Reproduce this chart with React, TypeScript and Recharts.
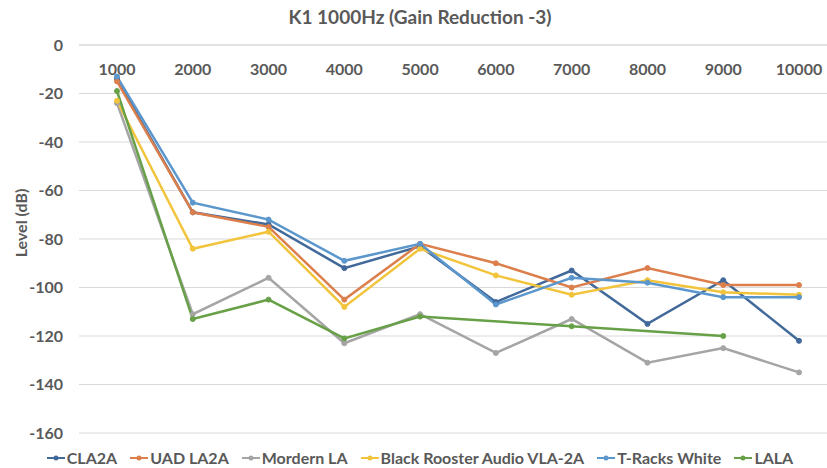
import { LineChart, Line, XAxis, YAxis, CartesianGrid, Legend } from "recharts";

const freqs = ["1000", "2000", "3000", "4000", "5000", "6000", "7000", "8000", "9000", "10000"];

const cla2a = [-14, -69, -74, -92, -83, -106, -93, -115, -97, -122];
const uadLa2a = [-15, -69, -75, -105, -82, -90, -100, -92, -99, -99];
const mordernLa = [-24, -111, -96, -123, -111, -127, -113, -131, -125, -135];
const blackRooster = [-23, -84, -77, -108, -84, -95, -103, -97, -102, -103];
const tracksWhite = [-13, -65, -72, -89, -82, -107, -96, -98, -104, -104];
// LALA was not measured at 6000, 8000 and 10000
const lala = [-19, -113, -105, -121, -112, null, -116, null, -120, null];

const yTicks = [0, -20, -40, -60, -80, -100, -120, -140, -160];

const series = [
  { key: "cla2a", name: "CLA2A", color: "#41699a", values: cla2a },
  { key: "uad", name: "UAD LA2A", color: "#dc7f4c", values: uadLa2a },
  { key: "mordern", name: "Mordern LA", color: "#a5a5a5", values: mordernLa },
  { key: "black", name: "Black Rooster Audio VLA-2A", color: "#f2c43c", values: blackRooster },
  { key: "tracks", name: "T-Racks White", color: "#5b97cc", values: tracksWhite },
  { key: "lala", name: "LALA", color: "#67a047", values: lala },
];

const data = freqs.map((freq, i) => {
  const row: any = { freq };
  series.forEach((s) => {
    row[s.key] = s.values[i];
  });
  return row;
});

const textColor = "#595959";
const font = "Lato, 'Open Sans', sans-serif";

const LegendContent = () => (
  <div
    style={{
      display: "flex",
      justifyContent: "center",
      gap: 13,
      fontFamily: font,
      fontSize: 16,
      fontWeight: 700,
      color: textColor,
      lineHeight: "22px",
    }}
  >
    {series.map((s) => (
      <div key={s.key} style={{ display: "flex", alignItems: "center" }}>
        <svg width={18} height={10} style={{ marginRight: 2 }}>
          <line x1={0} y1={5} x2={18} y2={5} stroke={s.color} strokeWidth={2} />
          <circle cx={9} cy={5} r={2.5} fill={s.color} />
        </svg>
        <span>{s.name}</span>
      </div>
    ))}
  </div>
);

const YLabel = ({ viewBox }: any) => {
  const cx = 20;
  const cy = viewBox.y + viewBox.height / 2 - 16;
  return (
    <text
      x={cx}
      y={cy}
      transform={`rotate(-90, ${cx}, ${cy})`}
      textAnchor="middle"
      dominantBaseline="central"
      fill={textColor}
      fontFamily={font}
      fontSize={16}
      fontWeight={700}
    >
      Level (dB)
    </text>
  );
};

export default function App() {
  return (
    <div
      style={{
        position: "absolute",
        left: 0,
        top: 0,
        width: 827,
        height: 468,
        overflow: "hidden",
        background: "#fff",
      }}
    >
      <div
        style={{
          position: "absolute",
          top: 5,
          left: 0,
          width: 840,
          textAlign: "center",
          fontFamily: font,
          fontSize: 19,
          fontWeight: 700,
          color: textColor,
        }}
      >
        K1 1000Hz (Gain Reduction -3)
      </div>
      <LineChart
        width={840}
        height={468}
        data={data}
        margin={{ top: 45, right: 3, bottom: 13, left: 0 }}
      >
        <CartesianGrid vertical={false} stroke="#d9d9d9" />
        <XAxis
          dataKey="freq"
          orientation="top"
          mirror
          axisLine={{ stroke: "#d9d9d9" }}
          tickLine={false}
          tickSize={0}
          tickMargin={19}
          padding={{ left: 38, right: 38 }}
          tick={{ fill: textColor, fontFamily: font, fontSize: 16, fontWeight: 700 }}
        />
        <YAxis
          domain={[-160, 0]}
          ticks={yTicks}
          width={79}
          axisLine={false}
          tickLine={false}
          tickSize={0}
          tickMargin={16}
          tick={{ fill: textColor, fontFamily: font, fontSize: 16, fontWeight: 700 }}
          label={<YLabel />}
        />
        <Legend
          content={<LegendContent />}
          wrapperStyle={{ position: "absolute", top: 447, left: 0, width: 840, height: 22 }}
        />
        {series.map((s) => (
          <Line
            key={s.key}
            dataKey={s.key}
            name={s.name}
            stroke={s.color}
            strokeWidth={2.5}
            dot={{ r: 2.5, fill: s.color, stroke: s.color, strokeWidth: 1 }}
            connectNulls
            isAnimationActive={false}
          />
        ))}
      </LineChart>
    </div>
  );
}
